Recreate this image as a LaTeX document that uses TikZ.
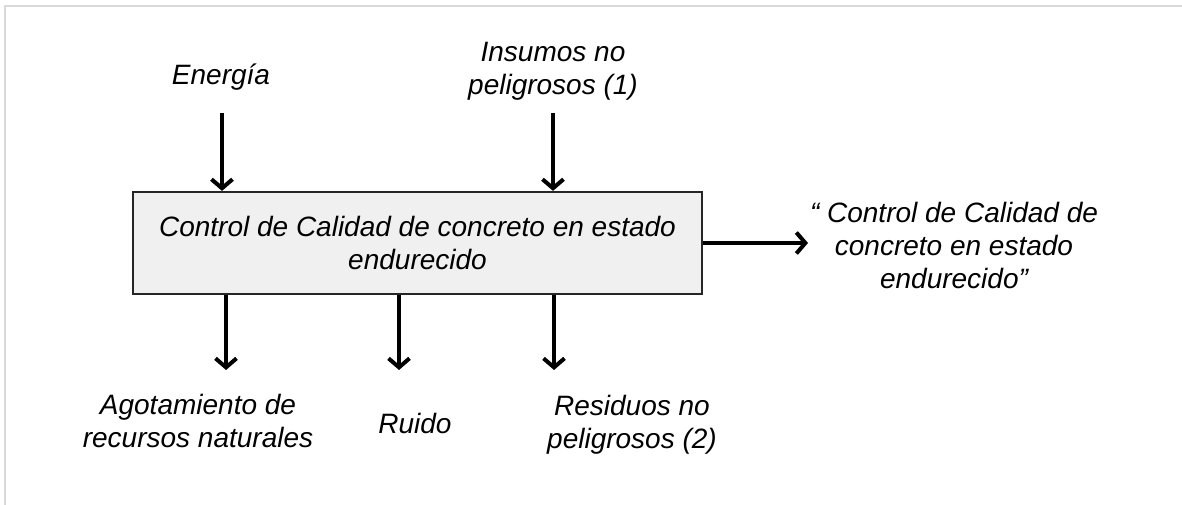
\documentclass[tikz,border=0pt]{standalone}
\usepackage{fontspec}
\setmainfont{Liberation Sans}
\usepackage{tikz}
\usetikzlibrary{arrows.meta,positioning}
\definecolor{FrameGray}{HTML}{D9D9D9}
\definecolor{BoxFill}  {HTML}{F0F0F0}

\tikzset{
  lbl/.style={align=center,inner sep=0pt,font=\fontsize{28}{33}\selectfont\itshape},
  flow/.style={line width=3.6pt,-{Straight Barb[length=9pt,width=21pt,line width=4pt]}}
}

\begin{document}
\begin{tikzpicture}[x=1pt,y=1pt]
    \useasboundingbox (0,0) rectangle (1182,-505);
    \draw[FrameGray,line width=2pt] (5,-505) -- (5,-6) -- (1182,-6);
    % proceso central
    \node[fill=BoxFill,draw=black!85,line width=2.2pt,minimum width=569pt,minimum height=102pt,
          lbl,font=\fontsize{28}{33}\selectfont\itshape] (proceso) at (417.5,-243)
      {Control de Calidad de concreto en estado\\endurecido};
    % entradas
    \node[lbl] (energia) at (221,-77) {Energía};
    \node[lbl] (insumos) at (553,-71) {Insumos no\\peligrosos (1)};
    \coordinate (energia-in) at (222,-113);
    \coordinate (insumos-in) at (553,-113);
    \draw[flow] (energia-in) -- (energia-in |- proceso.north);
    \draw[flow] (insumos-in) -- (insumos-in |- proceso.north);
    % salida
    \node[lbl] (salida) at (954,-245)
      {“ Control de Calidad de\\concreto en estado\\endurecido”};
    \coordinate (salida-in) at (808,-243);
    \draw[flow] (proceso.east |- salida-in) -- (salida-in);
    % aspectos
    \node[lbl] (agotamiento) at (198,-421) {Agotamiento de\\recursos naturales};
    \node[lbl] (ruido) at (415,-423) {Ruido};
    \node[lbl] (residuos) at (632,-425) {Residuos no\\peligrosos (2)};
    \coordinate (agotamiento-out) at (226,-370);
    \coordinate (ruido-out) at (399,-370);
    \coordinate (residuos-out) at (554,-370);
    \draw[flow] (proceso.south -| agotamiento-out) -- (agotamiento-out);
    \draw[flow] (proceso.south -| ruido-out) -- (ruido-out);
    \draw[flow] (proceso.south -| residuos-out) -- (residuos-out);
\end{tikzpicture}
\end{document}
